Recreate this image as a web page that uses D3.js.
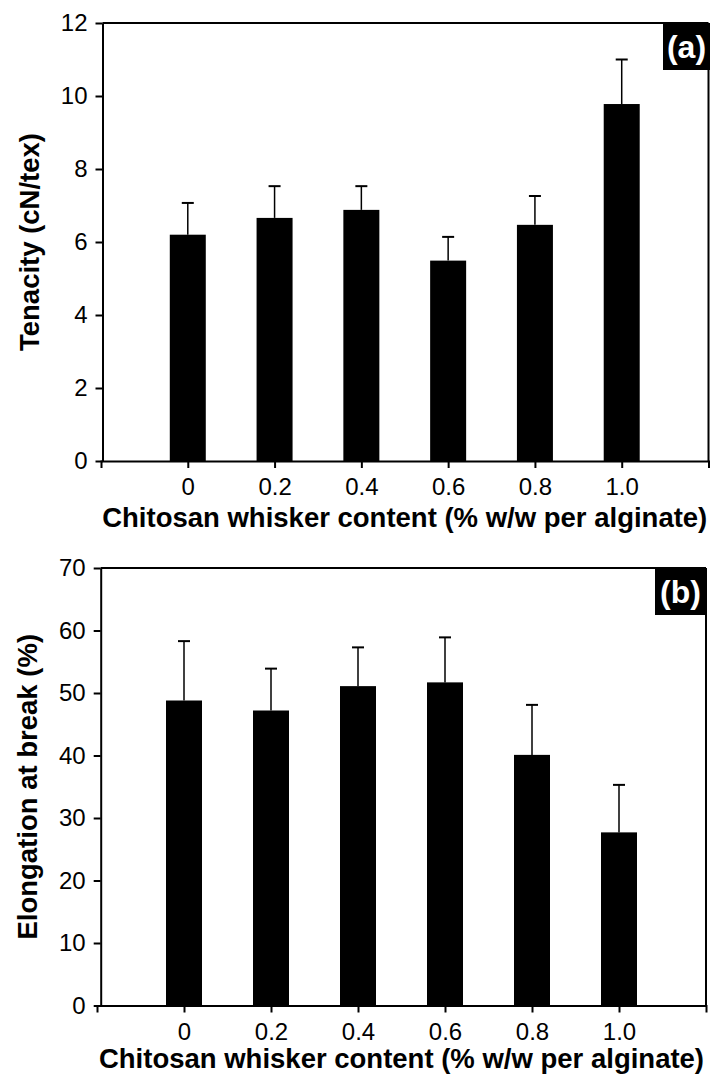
<!DOCTYPE html>
<html lang="en">
  <head>
    <meta charset="UTF-8" />
    <script src="https://cdn.jsdelivr.net/npm/d3@7"></script>
    <title>Chitosan whisker fibres</title>
    <style>
      body {
        margin: 0;
        background: white;
      }
      svg text {
        font-family: "Liberation Sans", Arial, sans-serif;
        fill: black;
      }
      .axis path,
      .axis line {
        stroke: black;
        stroke-width: 2px;
      }
      .axis text {
        font-size: 24px;
      }
      .title {
        font-size: 27.5px;
        font-weight: bold;
      }
    </style>
  </head>

  <body>
    <script>
      // ---------------- data ----------------
      const contentLabels = ["0", "0.2", "0.4", "0.6", "0.8", "1.0"];
      const contentValues = [0, 0.2, 0.4, 0.6, 0.8, 1.0];

      // panel (a) tenacity, cN/tex
      const tenacity = [6.2, 6.66, 6.88, 5.49, 6.47, 9.78];
      const tenacityErr = [0.87, 0.87, 0.65, 0.65, 0.79, 1.22];
      const tenacityTicks = [0, 2, 4, 6, 8, 10, 12];

      // panel (b) elongation at break, %
      const elongation = [48.8, 47.2, 51.1, 51.7, 40.1, 27.7];
      const elongationErr = [9.5, 6.7, 6.2, 7.2, 8.0, 7.6];
      const elongationTicks = [0, 10, 20, 30, 40, 50, 60, 70];

      const xTitle = "Chitosan whisker content (% w/w per alginate)";

      // ---------------- page ----------------
      const svg = d3
        .select("body")
        .append("svg")
        .attr("width", 710)
        .attr("height", 1077);

      function drawPanel(p) {
        const g = svg.append("g");

        const x = d3.scaleLinear().domain([-0.2, 1.2]).range([p.xLeft, p.xRight]);
        const y = d3.scaleLinear().domain([0, p.yMax]).range([p.bottom, p.top]);

        // frame: top and right border
        g.append("line")
          .attr("x1", p.yAxisX)
          .attr("x2", p.xRight)
          .attr("y1", p.top)
          .attr("y2", p.top)
          .attr("stroke", "black")
          .attr("stroke-width", 2);
        g.append("line")
          .attr("x1", p.xRight)
          .attr("x2", p.xRight)
          .attr("y1", p.top)
          .attr("y2", p.bottom)
          .attr("stroke", "black")
          .attr("stroke-width", 2);

        // bars
        const barW = 36;
        g.selectAll(".bar")
          .data(p.values)
          .enter()
          .append("rect")
          .attr("class", "bar")
          .attr("x", (d, i) => x(contentValues[i]) - barW / 2)
          .attr("y", (d) => y(d))
          .attr("width", barW)
          .attr("height", (d) => y(0) - y(d))
          .attr("fill", "black");

        // error bars (upper only)
        const err = g.selectAll(".err").data(p.values).enter().append("g");
        err.append("line")
          .attr("x1", (d, i) => x(contentValues[i]))
          .attr("x2", (d, i) => x(contentValues[i]))
          .attr("y1", (d) => y(d))
          .attr("y2", (d, i) => y(d + p.errors[i]))
          .attr("stroke", "black")
          .attr("stroke-width", 1.5);
        err.append("line")
          .attr("x1", (d, i) => x(contentValues[i]) - 6)
          .attr("x2", (d, i) => x(contentValues[i]) + 6)
          .attr("y1", (d, i) => y(d + p.errors[i]))
          .attr("y2", (d, i) => y(d + p.errors[i]))
          .attr("stroke", "black")
          .attr("stroke-width", 2);

        // axes
        const xAxis = g
          .append("g")
          .attr("class", "axis")
          .attr("transform", `translate(0,${p.bottom})`)
          .call(
            d3
              .axisBottom(x)
              .tickValues(contentValues)
              .tickFormat((d, i) => contentLabels[i])
              .tickSize(7)
              .tickPadding(10)
          );
        xAxis.selectAll("text").attr("font-size", 22);

        g.append("g")
          .attr("class", "axis")
          .attr("transform", `translate(${p.yAxisX},0)`)
          .call(
            d3
              .axisLeft(y)
              .tickValues(p.ticks)
              .tickSize(7)
              .tickSizeOuter(0)
              .tickPadding(8)
          );

        // titles
        g.append("text")
          .attr("class", "title")
          .attr("x", (p.xLeft + p.xRight) / 2)
          .attr("y", p.bottom + p.xTitleGap)
          .attr("text-anchor", "middle")
          .text(xTitle);

        g.append("text")
          .attr("class", "title")
          .attr("transform", `translate(${p.yTitleX},${(p.top + p.bottom) / 2}) rotate(-90)`)
          .attr("text-anchor", "middle")
          .text(p.yTitle);

        // panel letter
        g.append("rect")
          .attr("x", p.boxX)
          .attr("y", p.top)
          .attr("width", p.boxW)
          .attr("height", 47)
          .attr("fill", "black");
        g.append("text")
          .attr("x", p.boxX + p.boxW / 2)
          .attr("y", p.top + 35)
          .attr("text-anchor", "middle")
          .attr("font-size", 32)
          .attr("font-weight", "bold")
          .style("fill", "white")
          .text(p.letter);
      }

      drawPanel({
        values: tenacity,
        errors: tenacityErr,
        ticks: tenacityTicks,
        yMax: 12,
        top: 23,
        bottom: 461,
        yAxisX: 102.5,
        xLeft: 101,
        xRight: 708.5,
        xTitleGap: 66,
        yTitleX: 39,
        yTitle: "Tenacity (cN/tex)",
        boxX: 663,
        boxW: 47,
        letter: "(a)",
      });

      drawPanel({
        values: elongation,
        errors: elongationErr,
        ticks: elongationTicks,
        yMax: 70,
        top: 568,
        bottom: 1005.5,
        yAxisX: 100.7,
        xLeft: 97,
        xRight: 706,
        xTitleGap: 62,
        yTitleX: 37,
        yTitle: "Elongation at break (%)",
        boxX: 655,
        boxW: 51,
        letter: "(b)",
      });
    </script>
  </body>
</html>
